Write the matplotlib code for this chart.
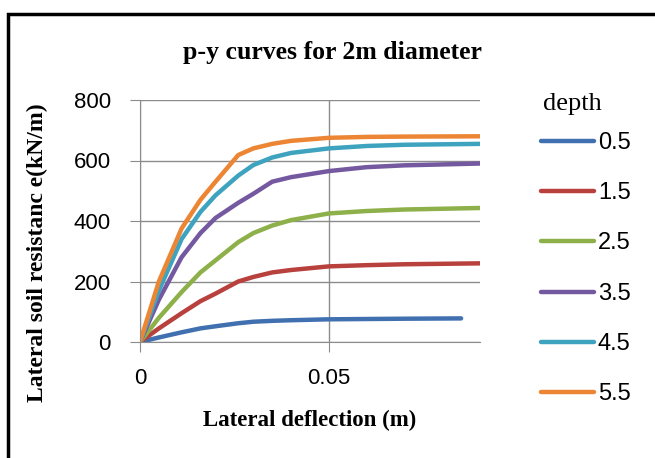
from matplotlib import pyplot as plt
from matplotlib.patches import Rectangle

# deflection (m) and soil resistance (kN/m) for each depth
x = [0, 0.005, 0.011, 0.016, 0.02, 0.026, 0.03, 0.035, 0.04, 0.05, 0.06, 0.07, 0.09]
x_05 = [0, 0.005, 0.011, 0.016, 0.02, 0.026, 0.03, 0.035, 0.04, 0.05, 0.06, 0.07, 0.085]

p_05 = [0, 15, 32, 45, 52, 62, 67, 70, 72, 75, 76, 77, 78]
p_15 = [0, 45, 95, 135, 160, 200, 215, 230, 238, 250, 254, 257, 260]
p_25 = [0, 80, 165, 230, 270, 330, 360, 385, 403, 425, 433, 438, 443]
p_35 = [0, 140, 280, 360, 410, 460, 490, 530, 545, 565, 578, 584, 590]
p_45 = [0, 170, 340, 430, 485, 550, 585, 610, 625, 640, 648, 652, 655]
p_55 = [0, 200, 375, 470, 530, 618, 640, 655, 665, 675, 678, 679, 680]

depths = ['0.5', '1.5', '2.5', '3.5', '4.5', '5.5']
colors = ['#4170B0', '#B8403D', '#8DB04A', '#7559A0', '#3EA3BF', '#EC8634']

serif = 'Liberation Serif'
sans = 'Liberation Sans'

fig = plt.figure(figsize=(6.55, 4.58), dpi=100)
fig.patches.append(Rectangle((8 / 655, -0.1), 1.1, 1 - 14 / 458 + 0.1,
                             transform=fig.transFigure, fill=False,
                             edgecolor='black', linewidth=2.5))

ax = fig.add_axes([140 / 655, 1 - 342 / 458, 340 / 655, 242 / 458])

series = [(x_05, p_05), (x, p_15), (x, p_25), (x, p_35), (x, p_45), (x, p_55)]
for (xs, ps), d, c in zip(series, depths, colors):
    ax.plot(xs, ps, color=c, linewidth=3.2, solid_capstyle='round', label=d)

ax.set_xlim(0, 0.09)
ax.set_ylim(0, 800)
ax.set_xticks([0, 0.05])
ax.set_xticklabels(['0', '0.05'])
ax.set_yticks([0, 200, 400, 600, 800])
ax.grid(True, color='#8c8c8c', linewidth=1)
ax.set_axisbelow(True)
for s in ['top', 'right']:
    ax.spines[s].set_visible(False)
for s in ['left', 'bottom']:
    ax.spines[s].set_color('#8c8c8c')
ax.tick_params(colors='#8c8c8c', length=7, labelcolor='black', labelsize=16)
for lab in ax.get_xticklabels() + ax.get_yticklabels():
    lab.set_family(sans)
ax.tick_params(axis='x', pad=12)
ax.tick_params(axis='y', pad=14)

fig.text(332 / 655, 1 - 52 / 458, 'p-y curves for 2m diameter', fontfamily=serif,
         fontweight='bold', fontsize=18.5, ha='center', va='center')
ax.set_xlabel('Lateral deflection (m)', fontfamily=serif, fontweight='bold',
              fontsize=16.5, labelpad=15)
ax.set_ylabel('Lateral soil resistanc e(kN/m)', fontfamily=serif, fontweight='bold',
              fontsize=17)
ax.yaxis.set_label_coords(-0.27, 0.368)

ax.legend(loc='upper left', bbox_to_anchor=(529 / 655, 1 - 120 / 458),
          bbox_transform=fig.transFigure, frameon=False, borderpad=0,
          prop={'family': sans, 'size': 17},
          handlelength=2.25, handletextpad=0.17, labelspacing=1.2)
fig.text(543 / 655, 1 - 104 / 458, 'depth', fontfamily=serif, fontsize=19,
         ha='left', va='center')

fig.savefig('out.png', dpi=100)
